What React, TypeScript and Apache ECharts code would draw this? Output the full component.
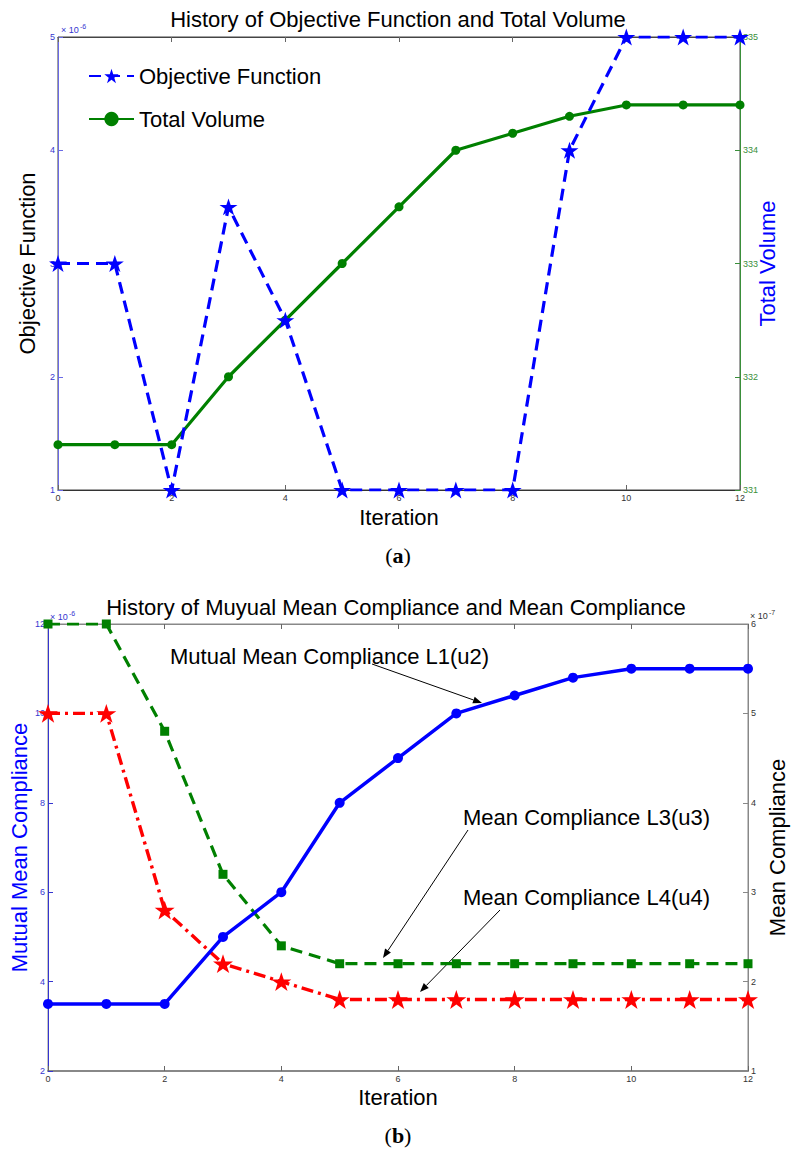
import React, { useEffect, useRef } from "react";
import * as echarts from "echarts";

// ---------- data ----------
const iterations = [0, 1, 2, 3, 4, 5, 6, 7, 8, 9, 10, 11, 12];
// (a) Objective Function (x 10^-6) and Total Volume
const objectiveFunction = [3, 3, 1, 3.5, 2.5, 1, 1, 1, 1, 4, 5, 5, 5];
const totalVolume = [331.4, 331.4, 331.4, 332, 332.5, 333, 333.5, 334, 334.15, 334.3, 334.4, 334.4, 334.4];
// (b) Mutual mean compliance (x 10^-6) and mean compliances (x 10^-7)
const mutualMeanCompliance = [3.5, 3.5, 3.5, 5, 6, 8, 9, 10, 10.4, 10.8, 11, 11, 11];
const meanComplianceL3 = [6, 6, 4.8, 3.2, 2.4, 2.2, 2.2, 2.2, 2.2, 2.2, 2.2, 2.2, 2.2];
const meanComplianceL4 = [5, 5, 2.8, 2.2, 2.0, 1.8, 1.8, 1.8, 1.8, 1.8, 1.8, 1.8, 1.8];

const titleA = "History of Objective Function and Total Volume";
const titleB = "History of Muyual Mean Compliance and Mean Compliance";
const nameObjective = "Objective Function";
const nameVolume = "Total Volume";
const nameMutual = "Mutual Mean Compliance L1(u2)";
const nameL3 = "Mean Compliance L3(u3)";
const nameL4 = "Mean Compliance L4(u4)";

const FONT = "'Liberation Sans', Arial, Helvetica, sans-serif";
const SERIF = "'Liberation Serif', 'Times New Roman', serif";
const STAR =
  "path://M50,0L61.8,35.1L98.9,35.1L69,56.8L80.3,91.9L50,70.2L19.7,91.9L31,56.8L1.1,35.1L38.2,35.1Z";

const BLUE = "#0000ff";
const GREEN = "#008000";
const RED = "#ff0000";

const pairs = (ys: number[]) => iterations.map((x, i) => [x, ys[i]]);

function arrow(x1: number, y1: number, x2: number, y2: number) {
  const ang = Math.atan2(y2 - y1, x2 - x1);
  const L = 9;
  const W = 3.5;
  const bx = x2 - L * Math.cos(ang);
  const by = y2 - L * Math.sin(ang);
  const px = -Math.sin(ang) * W;
  const py = Math.cos(ang) * W;
  return [
    { type: "line", shape: { x1, y1, x2: bx, y2: by }, style: { stroke: "#000", lineWidth: 1 } },
    {
      type: "polygon",
      shape: { points: [[x2, y2], [bx + px, by + py], [bx - px, by - py]] },
      style: { fill: "#000" },
    },
  ];
}

function expLabel(x: number, y: number, exp: string, color: string) {
  return [
    { type: "text", x, y, style: { text: "\u00d7 10", fontSize: 9, fill: color, fontFamily: FONT, textVerticalAlign: "middle" } },
    { type: "text", x: x + 19, y: y - 4, style: { text: exp, fontSize: 7, fill: color, fontFamily: FONT, textVerticalAlign: "middle" } },
  ];
}

function caption(x: number, y: number, letter: string) {
  return {
    type: "text",
    x,
    y,
    style: {
      text: "{r|(}{b|" + letter + "}{r|)}",
      rich: {
        r: { fontSize: 22, fontFamily: SERIF, fill: "#000" },
        b: { fontSize: 22, fontFamily: SERIF, fontWeight: "bold", fill: "#000" },
      },
      textAlign: "center",
      textVerticalAlign: "middle",
    },
  };
}

const axisNameStyle = (color: string) => ({ fontSize: 22, color, fontFamily: FONT });

function xAxisPair(gridIndex: number, lineColor: string, lineWidth: number, topColor: string, nameGap: number) {
  return [
    {
      gridIndex,
      type: "value",
      position: "bottom",
      min: 0,
      max: 12,
      interval: 2,
      axisLine: { show: true, onZero: false, lineStyle: { color: lineColor, width: lineWidth } },
      axisTick: { show: true, inside: true, length: 5, lineStyle: { color: "#666" } },
      axisLabel: { fontSize: 9, color: "#333", margin: 3, fontFamily: FONT },
      splitLine: { show: false },
      name: "Iteration",
      nameLocation: "middle",
      nameGap,
      nameMoveOverlap: false,
      nameTextStyle: axisNameStyle("#000"),
    },
    {
      gridIndex,
      type: "value",
      position: "top",
      min: 0,
      max: 12,
      interval: 2,
      axisLine: { show: true, onZero: false, lineStyle: { color: topColor, width: 1 } },
      axisTick: { show: true, inside: true, length: 5, lineStyle: { color: "#666" } },
      axisLabel: { show: false },
      splitLine: { show: false },
    },
  ];
}

function yAxis(
  gridIndex: number,
  position: string,
  min: number,
  max: number,
  interval: number,
  lineColor: string,
  labelColor: string,
  name: string,
  nameColor: string,
  nameGap: number
) {
  return {
    gridIndex,
    type: "value",
    position,
    min,
    max,
    interval,
    axisLine: { show: true, onZero: false, lineStyle: { color: lineColor, width: 1 } },
    axisTick: { show: true, inside: true, length: 5, lineStyle: { color: lineColor } },
    axisLabel: { fontSize: 9, color: labelColor, margin: 3, fontFamily: FONT },
    splitLine: { show: false },
    name,
    nameLocation: "middle",
    nameRotate: 90,
    nameGap,
    nameMoveOverlap: false,
    nameTextStyle: axisNameStyle(nameColor),
  };
}

export default function App() {
  const ref = useRef<HTMLDivElement>(null);

  useEffect(() => {
    if (!ref.current) return;
    const chart = echarts.init(ref.current, null, { renderer: "svg" });

    const option: any = {
      animation: false,
      backgroundColor: "#fff",
      grid: [
        { left: 58, right: 58, top: 37, bottom: 674, show: true, borderColor: "#444", borderWidth: 1 },
        { left: 47, right: 50, top: 624, bottom: 93, show: true, borderColor: "#888", borderWidth: 1 },
      ],
      xAxis: [...xAxisPair(0, "#333", 1, "#444", 16), ...xAxisPair(1, "#888", 2, "#888", 15)],
      yAxis: [
        yAxis(0, "left", 1, 5, 1, "#6a6ae6", "#3535d0", "Objective Function", "#000", 20),
        yAxis(0, "right", 331, 335, 1, "#3a8f3a", "#3a8f3a", "Total Volume", BLUE, 16),
        yAxis(1, "left", 2, 12, 2, "#3535d0", "#3535d0", "Mutual Mean Compliance", BLUE, 18),
        yAxis(1, "right", 1, 6, 1, "#888", "#333", "Mean Compliance", "#000", 18),
      ],
      legend: {
        data: [nameObjective, nameVolume],
        orient: "vertical",
        left: 83,
        top: 60,
        itemWidth: 45,
        itemHeight: 18,
        itemGap: 21,
        textStyle: { fontSize: 22, color: "#000", fontFamily: FONT },
      },
      series: [
        {
          name: nameVolume,
          type: "line",
          xAxisIndex: 0,
          yAxisIndex: 1,
          data: pairs(totalVolume),
          symbol: "circle",
          symbolSize: 9,
          color: GREEN,
          itemStyle: { color: GREEN },
          lineStyle: { color: GREEN, width: 3.2 },
        },
        {
          name: nameObjective,
          type: "line",
          xAxisIndex: 0,
          yAxisIndex: 0,
          data: pairs(objectiveFunction),
          symbol: STAR,
          symbolKeepAspect: true,
          symbolSize: 18,
          color: BLUE,
          itemStyle: { color: BLUE },
          lineStyle: { color: BLUE, width: 3.2, type: [12, 7] },
        },
        {
          name: nameL3,
          type: "line",
          xAxisIndex: 2,
          yAxisIndex: 3,
          data: pairs(meanComplianceL3),
          symbol: "rect",
          symbolSize: 9,
          color: GREEN,
          itemStyle: { color: GREEN },
          lineStyle: { color: GREEN, width: 3.2, type: [12, 7] },
        },
        {
          name: nameL4,
          type: "line",
          xAxisIndex: 2,
          yAxisIndex: 3,
          data: pairs(meanComplianceL4),
          symbol: STAR,
          symbolKeepAspect: true,
          symbolSize: 20,
          color: RED,
          itemStyle: { color: RED },
          lineStyle: { color: RED, width: 3.4, type: [12, 5, 3, 5] },
        },
        {
          name: nameMutual,
          type: "line",
          xAxisIndex: 2,
          yAxisIndex: 2,
          data: pairs(mutualMeanCompliance),
          symbol: "circle",
          symbolSize: 10,
          color: BLUE,
          itemStyle: { color: BLUE },
          lineStyle: { color: BLUE, width: 3.5 },
        },
      ],
      graphic: [
        {
          type: "text",
          x: 398,
          y: 19,
          style: { text: titleA, fontSize: 22, fill: "#000", fontFamily: FONT, textAlign: "center", textVerticalAlign: "middle" },
        },
        {
          type: "text",
          x: 396,
          y: 607,
          style: { text: titleB, fontSize: 22, fill: "#000", fontFamily: FONT, textAlign: "center", textVerticalAlign: "middle" },
        },
        ...expLabel(61, 30, "-6", "#3535d0"),
        ...expLabel(50, 617, "-6", "#3535d0"),
        ...expLabel(750, 616, "-7", "#333"),
        {
          type: "text",
          x: 170,
          y: 656,
          style: { text: nameMutual, fontSize: 22, fill: "#000", fontFamily: FONT, textVerticalAlign: "middle" },
        },
        {
          type: "text",
          x: 463,
          y: 817,
          style: { text: nameL3, fontSize: 22, fill: "#000", fontFamily: FONT, textVerticalAlign: "middle" },
        },
        {
          type: "text",
          x: 463,
          y: 897,
          style: { text: nameL4, fontSize: 22, fill: "#000", fontFamily: FONT, textVerticalAlign: "middle" },
        },
        ...arrow(372, 664, 482, 703),
        ...arrow(468, 830, 383, 958),
        ...arrow(500, 910, 420, 992),
        caption(398, 555, "a"),
        caption(398, 1135, "b"),
      ],
    };

    chart.setOption(option);
    return () => chart.dispose();
  }, []);

  return (
    <div
      ref={ref}
      style={{ position: "absolute", left: 0, top: 0, width: 798, height: 1164, background: "#fff" }}
    />
  );
}
